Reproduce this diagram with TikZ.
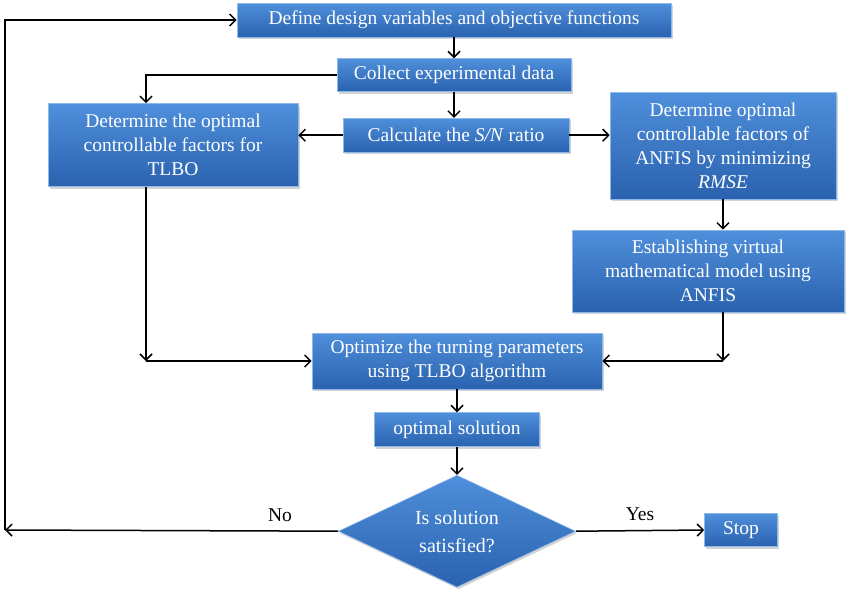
\documentclass[tikz,border=0pt]{standalone}
\usepackage{fontspec}
\setmainfont{Liberation Serif}
\usetikzlibrary{positioning, arrows.meta, shapes.geometric, shadows}

\definecolor{boxtop}{HTML}{4F8FDB}
\definecolor{boxbot}{HTML}{2A62AE}
\definecolor{boxedge}{HTML}{8DB8EA}

\begin{document}
\begin{tikzpicture}
        [
            x=1pt, y=-1pt,
            box/.style = {draw=boxedge, line width=0.6pt, top color=boxtop, bottom color=boxbot, text=white, inner sep=2pt, align=center,
                          drop shadow={opacity=0.35, shadow xshift=1.5pt, shadow yshift=-2pt}, font=\fontsize{19.5}{24}\selectfont},
            decision/.style = {box, diamond, aspect=2.1, inner sep=0pt, font=\fontsize{20}{28}\selectfont},
            flow/.style = {-{Straight Barb[length=6pt, width=12pt]}, line width=1.5pt, black},
            answer/.style = {font=\fontsize{19.5}{22}\selectfont},
            node distance=21pt
        ]%
        \useasboundingbox (0,0) rectangle (850,592);
        \node[box, minimum width=434pt, minimum height=34pt] (define) at (454,20) {Define design variables and objective functions};
        \node[box, minimum width=234pt, minimum height=33pt, below=21pt of define] (collect) {Collect experimental data};
        \node[box, minimum width=226pt, minimum height=34pt, below=26pt of collect, xshift=2pt] (calcsn) {Calculate the \textit{S/N} ratio};
        \node[box, minimum width=250pt, minimum height=83pt] (tlbo) at (173,145) {Determine the optimal\\controllable factors for\\TLBO};
        \node[box, minimum width=226pt, minimum height=107pt] (rmse) at (723,145.5) {Determine optimal\\controllable factors of\\ANFIS by minimizing\\\textit{RMSE}};
        \node[box, minimum width=272pt, minimum height=82pt] (virtual) at (708,271) {Establishing virtual\\mathematical model using\\ANFIS};
        \node[box, minimum width=290pt, minimum height=56pt] (turning) at (457,361) {Optimize the turning parameters\\using TLBO algorithm};
        \node[box, minimum width=165pt, minimum height=34pt, below=23pt of turning] (optsol) {optimal solution};
        \node[decision, minimum width=237pt, minimum height=112pt, below=28pt of optsol] (check) {Is solution\\satisfied?};
        \node[box, minimum width=73pt, minimum height=33pt] (stop) at (741,530) {Stop};
        \node[answer] (yes) at (640,514) {Yes};
        \node[answer] (no) at (280,515) {No};
        \coordinate (loop) at (5,530);
        \coordinate (tlbojoin) at (146,361);
        \coordinate (virtjoin) at (723,361);
        % main column
        \draw[flow] (define) -- (collect);
        \draw[flow] (collect.south) -- (collect.south |- calcsn.north);
        \draw[flow] (turning) -- (optsol);
        \draw[flow] (optsol) -- (check);
        \draw[flow] (check.east) -- (stop.west);
        % side branches
        \draw[flow] (collect.west) -| ([xshift=-27pt]tlbo.north);
        \draw[flow] (calcsn.west) -- (calcsn.west -| tlbo.east);
        \draw[flow] (calcsn.east) -- (calcsn.east -| rmse.west);
        \draw[flow] (rmse.south) -- (rmse.south |- virtual.north);
        \draw[flow] ([xshift=-27pt]tlbo.south) -- (tlbojoin);
        \draw[flow] (tlbojoin) -- (turning.west);
        \draw[flow] (virtual.south -| virtjoin) -- (virtjoin);
        \draw[flow] (virtjoin) -- (turning.east);
        % feedback loop
        \draw[flow] (check.west) -- (loop);
        \draw[flow] (loop) |- (define.west);
\end{tikzpicture}
\end{document}
